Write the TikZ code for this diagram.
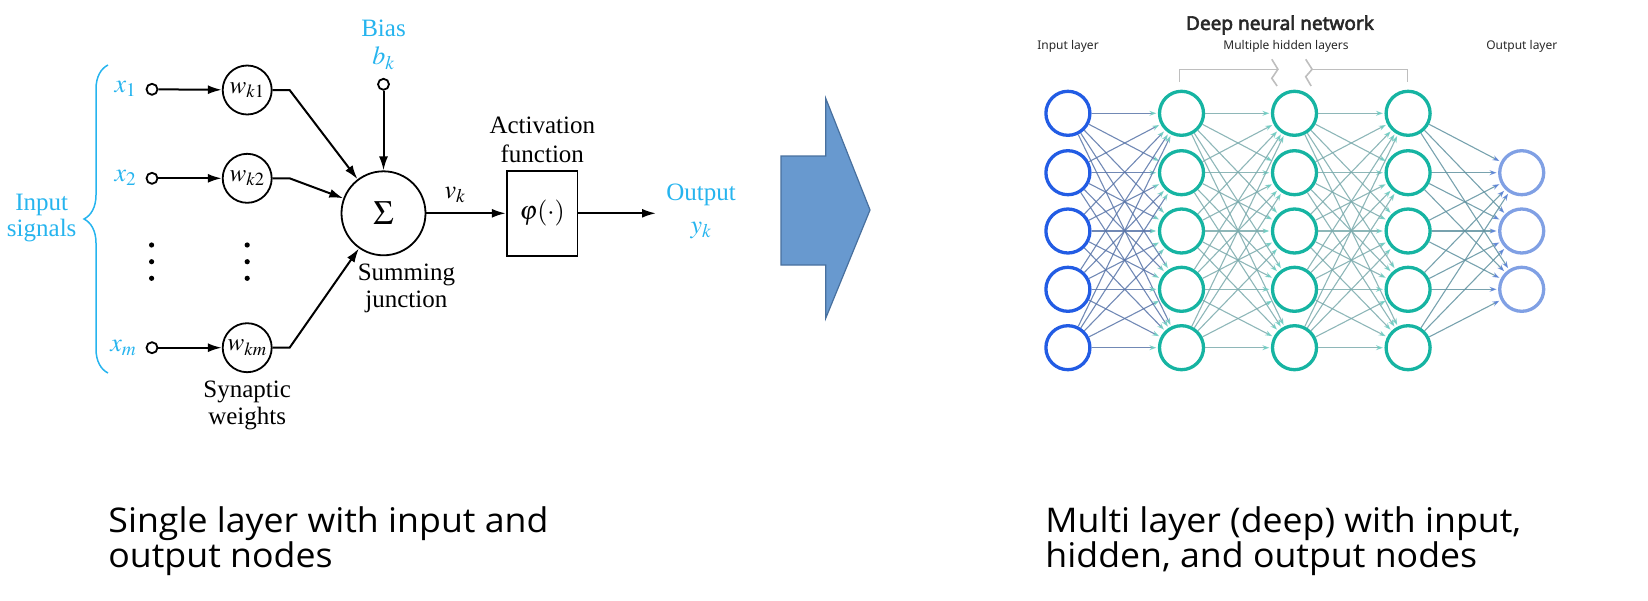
\documentclass[tikz,border=0pt]{standalone}
\usepackage{mathptmx}
\usepackage{fontspec}
\newfontfamily\serifface{Liberation Serif}
\newfontfamily\netface{Noto Sans}
\newfontfamily\nettitleface{Noto Sans}[FakeBold=3]
\newfontfamily\capface{Open Sans}[FakeStretch=1.05]
\usetikzlibrary{arrows.meta,positioning,shapes.geometric,decorations.pathreplacing}
\definecolor{sigblue}{RGB}{38,180,238}
\definecolor{arrowfill}{RGB}{104,153,207}
\definecolor{arrowline}{RGB}{72,112,158}
\definecolor{inblue}{RGB}{34,92,228}
\definecolor{hidteal}{RGB}{22,180,162}
\definecolor{outblue}{RGB}{128,160,228}
\definecolor{edgein}{RGB}{88,116,168}
\definecolor{edgehid}{RGB}{122,170,172}
\definecolor{edgeout}{RGB}{96,146,160}
\definecolor{tipteal}{RGB}{112,204,194}
\definecolor{tipblue}{RGB}{92,132,212}
\definecolor{bracegray}{RGB}{190,190,190}
\definecolor{nettext}{RGB}{40,40,40}

\begin{document}
\begin{tikzpicture}[x=1pt, y=-1pt, thick,
    lbl/.style={font=\serifface\fontsize{25}{27}\selectfont, align=center, inner sep=0pt},
    sgn/.style={lbl, text=sigblue},
    mth/.style={font=\fontsize{26}{28}\selectfont, inner sep=0pt},
    port/.style={circle, draw, line width=1.8pt, minimum size=11pt, inner sep=0pt},
    weight/.style={circle, draw, line width=1.8pt, minimum size=49pt, inner sep=0pt, font=\fontsize{25}{27}\selectfont},
    sig/.style={line width=2pt, -{Latex[length=14pt,width=9pt]}},
    neuron/.style={circle, draw, line width=3.3pt, minimum size=44pt, inner sep=0pt},
    link/.style={line width=1.1pt, draw opacity=0.85, shorten >=1.5pt},
    netlbl/.style={font=\netface\fontsize{12}{14}\selectfont, text=nettext, inner sep=0pt},
    caption/.style={font=\capface\fontsize{34}{32}\selectfont, align=left, anchor=north west, inner sep=0pt}]
  \useasboundingbox (0,0) rectangle (1648,600);

  % single neuron
  \node[port] (x1) at (152,89.3) {}; \node[port] (x2) at (152,178.3) {};
  \node[port] (xm) at (152,347.7) {};
  \node[mth, text=sigblue, left=9pt of x1] (lx1) {$x_1$};
  \node[mth, text=sigblue, left=9pt of x2] (lx2) {$x_2$};
  \node[mth, text=sigblue, left=9pt of xm] (lxm) {$x_m$};
  \node[weight] (w1) at (247.2,90) {$w_{k1}$}; \node[weight] (w2) at (247.2,178.3) {$w_{k2}$};
  \node[weight] (wm) at (247.2,347.7) {$w_{km}$};
  \foreach \y in {245,261.7,278.3} {
    \fill (151.6,\y) circle (2.6pt); \fill (247.2,\y) circle (2.6pt);
  }
  \node[circle, draw, line width=1.8pt, minimum size=84pt, inner sep=0pt]
    (sum) at (383.5,213.3) {\fontsize{34}{36}\selectfont$\Sigma$};
  \node[port] (bias) at (383.5,84.3) {};
  \node[sgn] (lbias) at (383.5,28.5) {Bias};
  \node[mth, text=sigblue] (lbk) at (383.5,58.3) {$b_k$};
  \node[draw, line width=1.8pt, minimum width=70.8pt, minimum height=85.3pt, inner sep=0pt]
    (act) at (542.1,213.3) {\fontsize{26}{28}\selectfont$\varphi(\cdot)$};
  \coordinate (yk) at (656,213.3);
  \node[lbl, font=\serifface\fontsize{25}{28.5}\selectfont] (lact) at (542.3,139.7) {Activation\\function};
  \node[lbl] (lsum) at (406.4,288.8) {Summing\\junction};
  \node[lbl] (lsyn) at (247.2,405) {Synaptic\\weights};
  \node[mth] (lvk) at (455,195) {$v_k$};
  \node[sgn] (lout) at (701,195) {Output}; \node[mth, text=sigblue] (lyk) at (701,230) {$y_k$};
  \node[sgn, font=\serifface\fontsize{25}{26}\selectfont] (lin) at (41.7,218.3) {Input\\signals};
  \draw[sig] (x1) -- (w1); \draw[sig] (x2) -- (w2); \draw[sig] (xm) -- (wm);
  \draw[sig] (w1.east) -- ++(17,0) -- (sum); \draw[sig] (w2.east) -- ++(17,0) -- (sum);
  \draw[sig] (wm.east) -- ++(17,0) -- (sum);
  \draw[sig] (bias) -- (sum); \draw[sig] (sum) -- (act); \draw[sig] (act) -- (yk);
  \draw[sigblue, line width=1.5pt, decorate, decoration={brace, amplitude=24pt}]
    (108,373) -- (108,65);

  % block arrow
  \draw[arrowline, fill=arrowfill, line width=1.2pt] (781,156) -- (825.7,156) -- (825.7,98.3)
    -- (870,210) -- (825.7,318.3) -- (825.7,265) -- (781,265) -- cycle;

  % deep network
  \node[font=\nettitleface\fontsize{19}{21}\selectfont, text=nettext] (title) at (1280,25) {Deep neural network};
  \node[netlbl] (lil) at (1068,46.7) {Input layer};
  \node[netlbl] (lhl) at (1286,46.7) {Multiple hidden layers};
  \node[netlbl] (lol) at (1521.8,46.7) {Output layer};
  \draw[bracegray, line width=1.6pt] (1179.6,81.7) |- (1277.9,69.3);
  \draw[bracegray, line width=1.6pt] (1407.5,81.7) |- (1312.1,69.3);
  \draw[bracegray, line width=1.6pt] (1271.8,59.3) -- (1277.9,69.3) -- (1271.8,78.3) -- (1277.1,86);
  \draw[bracegray, line width=1.6pt] (1305.7,59.3) -- (1312.1,69.3) -- (1305.7,76.7) -- (1311.1,86);
  \foreach \i/\y in {1/113.3,2/172.7,3/231,4/289.3,5/347.7} {
    \node[neuron, inblue] (in\i) at (1067.9,\y) {};
    \node[neuron, hidteal] (ha\i) at (1181.5,\y) {};
    \node[neuron, hidteal] (hb\i) at (1294.5,\y) {};
    \node[neuron, hidteal] (hc\i) at (1408.1,\y) {};
  }
  \foreach \i/\y in {1/172.7,2/231,3/289.3}
    \node[neuron, outblue] (out\i) at (1521.7,\y) {};
  \foreach \i in {1,...,5} {
    \foreach \j in {1,...,5} {
      \draw[link, edgein, -{Stealth[length=7pt,width=5pt,color=tipteal]}] (in\i) -- (ha\j);
      \draw[link, edgehid, -{Stealth[length=7pt,width=5pt,color=tipteal]}] (ha\i) -- (hb\j);
      \draw[link, edgehid, -{Stealth[length=7pt,width=5pt,color=tipteal]}] (hb\i) -- (hc\j);
    }
    \foreach \j in {1,2,3}
      \draw[link, edgeout, -{Stealth[length=7pt,width=5pt,color=tipblue]}] (hc\i) -- (out\j);
  }

  % captions
  \node[caption] (capl) at (108,506) {Single layer with input and\\output nodes};
  \node[caption] (capr) at (1045,506) {Multi layer (deep) with input,\\hidden, and output nodes};
\end{tikzpicture}
\end{document}
